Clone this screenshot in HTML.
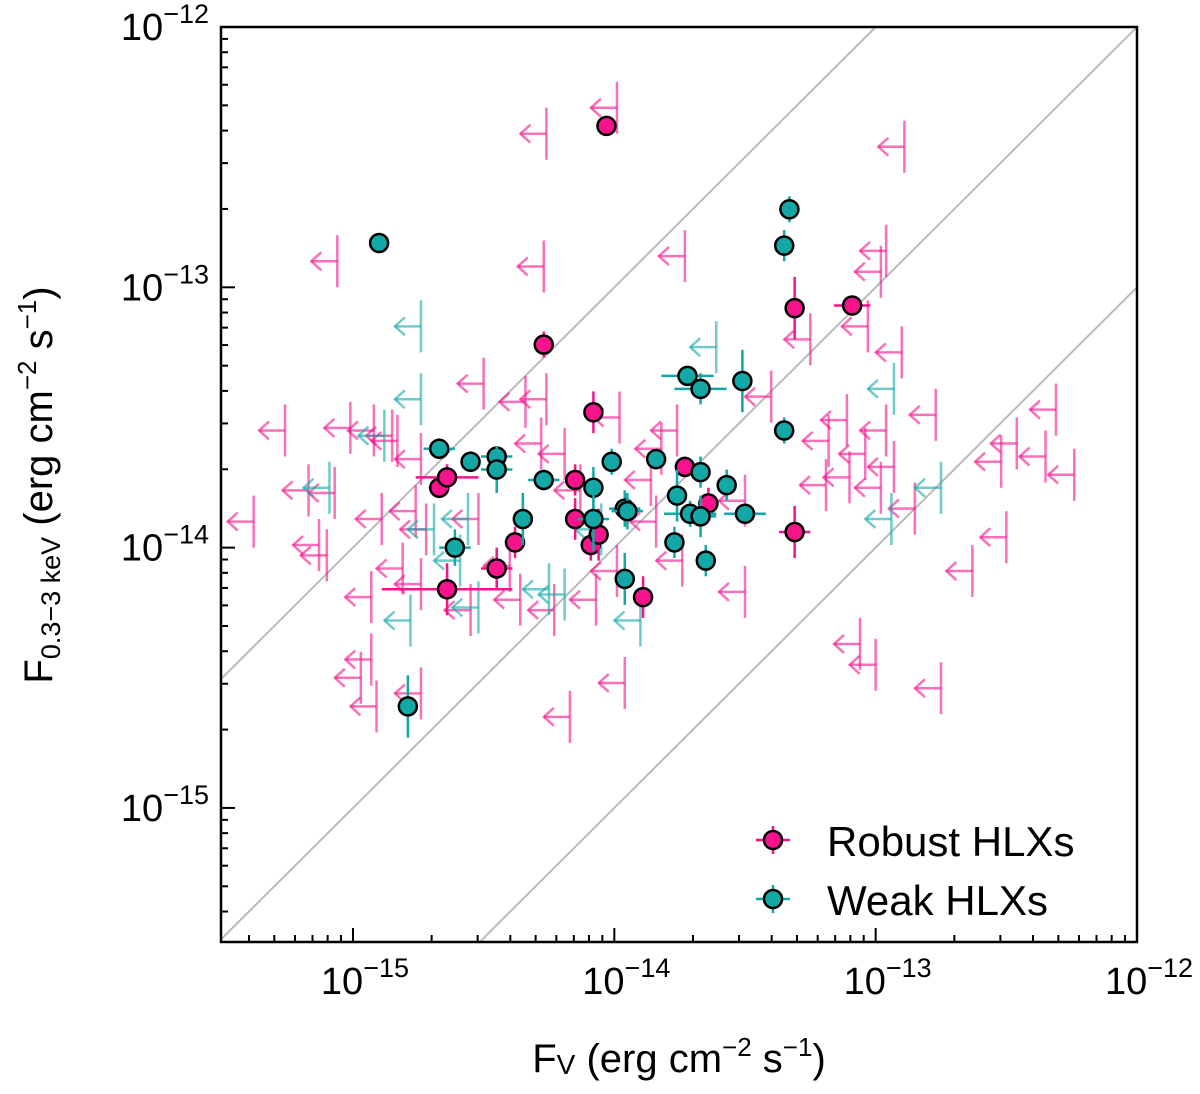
<!DOCTYPE html>
<html><head><meta charset="utf-8"><style>
html,body{margin:0;background:#fff;overflow:hidden;width:1200px;height:1094px}
svg{display:block;position:absolute;left:0;top:0}
svg text{font-family:"Liberation Sans",sans-serif}
</style></head><body>
<svg id="c" width="1200" height="1094" viewBox="0 0 1200 1094"></svg>
<script>
// log10 fluxes
const robustX=[-14.03,-14.27,-13.31,-13.09,-14.08,-13.73,-14.15,-14.15,-14.09,-14.06,-14.67,-14.64,-14.64,-14.45,-14.38,-13.89,-13.64,-13.31];
const robustY=[-12.38,-13.22,-13.08,-13.07,-13.48,-13.69,-13.74,-13.89,-13.99,-13.95,-13.77,-13.73,-14.16,-14.08,-13.98,-14.19,-13.83,-13.94];
const robustXerr=[0.03,0.02,0.02,0.07,0.03,0.02,0.03,0.03,0.03,0.02,0.04,0.12,0.25,0.06,0.02,0.03,0.03,0.06];
const robustYerr=[0.03,0.05,0.12,0.02,0.08,0.04,0.06,0.08,0.06,0.1,0.04,0.05,0.1,0.08,0.06,0.08,0.06,0.1];
const weakX=[-14.90,-13.33,-13.35,-13.72,-13.67,-13.51,-13.35,-14.67,-14.55,-14.45,-14.45,-14.27,-14.01,-13.84,-14.08,-14.35,-14.08,-13.96,-13.95,-13.76,-13.67,-13.57,-13.71,-13.67,-13.50,-14.61,-13.96,-13.77,-13.65,-14.79];
const weakY=[-12.83,-12.70,-12.84,-13.34,-13.39,-13.36,-13.55,-13.62,-13.67,-13.65,-13.70,-13.74,-13.67,-13.66,-13.77,-13.89,-13.89,-13.85,-13.86,-13.80,-13.71,-13.76,-13.87,-13.88,-13.87,-14.00,-14.12,-13.98,-14.05,-14.61];
const weakXerr=[0.02,0.02,0.02,0.1,0.1,0.03,0.03,0.06,0.02,0.06,0.06,0.06,0.02,0.02,0.03,0.03,0.06,0.06,0.06,0.03,0.02,0.03,0.1,0.06,0.08,0.06,0.03,0.02,0.02,0.02];
const weakYerr=[0.02,0.05,0.06,0.03,0.06,0.12,0.05,0.04,0.04,0.04,0.09,0.04,0.05,0.04,0.08,0.1,0.12,0.07,0.07,0.1,0.06,0.06,0.05,0.08,0.04,0.07,0.1,0.06,0.06,0.12];
const robustLimX=[-13.99,-14.26,-12.89,-14.27,-13.73,-12.96,-15.06,-12.98,-13.25,-13.03,-12.90,-14.50,-14.26,-14.34,-13.98,-13.40,-13.11,-12.96,-12.77,-12.31,-15.26,-15.01,-14.92,-14.85,-14.83,-14.74,-14.19,-14.28,-13.82,-13.76,-13.18,-13.19,-13.04,-12.93,-12.98,-12.85,-12.52,-12.46,-12.35,-12.24,-15.17,-15.07,-14.89,-14.76,-14.72,-14.52,-14.13,-13.86,-13.84,-13.50,-13.10,-12.50,-15.38,-15.13,-15.10,-14.93,-14.81,-14.74,-14.55,-14.36,-14.23,-14.40,-13.99,-13.74,-13.50,-14.07,-13.06,-13.00,-12.63,-12.75,-13.96,-14.17,-14.93,-14.97,-14.74,-14.91];
const robustLimY=[-12.31,-12.41,-12.46,-12.92,-12.88,-12.86,-12.90,-12.94,-13.20,-13.15,-13.25,-13.37,-13.43,-13.44,-13.50,-13.42,-13.51,-13.55,-13.49,-13.47,-13.55,-13.54,-13.55,-13.57,-13.59,-13.66,-13.64,-13.60,-13.62,-13.55,-13.59,-13.76,-13.64,-13.69,-13.77,-13.85,-13.67,-13.60,-13.65,-13.72,-13.78,-13.79,-13.89,-13.86,-13.93,-13.89,-13.78,-13.74,-13.90,-13.82,-13.73,-13.96,-13.90,-13.99,-14.03,-14.19,-14.08,-14.14,-14.24,-14.20,-14.24,-14.07,-14.09,-14.05,-14.17,-14.20,-14.37,-14.45,-14.09,-14.54,-14.52,-14.65,-14.43,-14.50,-14.56,-14.61];
const weakLimX=[-14.74,-14.74,-13.61,-12.93,-15.09,-14.88,-14.69,-14.56,-14.52,-14.05,-13.90,-14.19,-12.94,-12.75,-14.78,-14.25,-14.59];
const weakLimY=[-13.15,-13.43,-13.23,-13.39,-13.77,-13.57,-13.93,-13.89,-14.23,-13.93,-14.28,-14.18,-13.89,-13.77,-14.28,-14.16,-14.05];
const xTicks=[-15,-14,-13,-12];
const yTicks=[-15,-14,-13,-12];
const diagOffsets=[1,0,-1];

const NS="http://www.w3.org/2000/svg", svg=document.getElementById('c');
const L=221,R=1137,T=27,B=942;
const XMIN=-15.505,XMAX=-12,YMIN=-15.515,YMAX=-12;
const sx=v=>L+(v-XMIN)/(XMAX-XMIN)*(R-L);
const sy=v=>B-(v-YMIN)/(YMAX-YMIN)*(B-T);
function mk(tag,attrs,parent){const e=document.createElementNS(NS,tag);for(const k in attrs)e.setAttribute(k,attrs[k]);(parent||svg).appendChild(e);return e;}
const defs=mk('defs',{});const cp=mk('clipPath',{id:'clip'},defs);mk('rect',{x:L,y:T,width:R-L,height:B-T},cp);
const plot=mk('g',{'clip-path':'url(#clip)'});


diagOffsets.forEach(o=>{const a=Math.max(XMIN,YMIN-o),b=Math.min(XMAX,YMAX-o);
const l=mk('line',{x1:sx(a),y1:sy(a+o),x2:sx(b),y2:sy(b+o),stroke:'#bbb','stroke-width':2},plot);

});
const MAG='#f7138c',TEAL='#13a8a6';
function limit(x,y,col,name){const g=mk('g',{stroke:col,'stroke-opacity':0.6,'stroke-width':2.5,fill:'none'},plot);


const X=sx(x),Y=sy(y),len=26;
mk('line',{x1:X,y1:sy(y+0.1),x2:X,y2:sy(y-0.1)},g);
mk('line',{x1:X,y1:Y,x2:X-len,y2:Y},g);
mk('polyline',{points:`${X-len+10},${Y-9} ${X-len},${Y} ${X-len+10},${Y+9}`},g);}
robustLimX.forEach((x,i)=>limit(x,robustLimY[i],MAG,'robust-upper-limit'));
weakLimX.forEach((x,i)=>limit(x,weakLimY[i],TEAL,'weak-upper-limit'));
function det(x,y,xe,ye,col,name){const g=mk('g',{},plot);


const X=sx(x),Y=sy(y);
mk('line',{x1:sx(x-xe),y1:Y,x2:sx(x+xe),y2:Y,stroke:col,'stroke-width':2.5},g);
mk('line',{x1:X,y1:sy(y-ye),x2:X,y2:sy(y+ye),stroke:col,'stroke-width':2.5},g);
mk('circle',{cx:X,cy:Y,r:9,fill:col,stroke:'#000','stroke-width':2.5},g);}
robustX.forEach((x,i)=>det(x,robustY[i],robustXerr[i],robustYerr[i],MAG,'robust-hlx-point'));
weakX.forEach((x,i)=>det(x,weakY[i],weakXerr[i],weakYerr[i],TEAL,'weak-hlx-point'));
const fr=mk('rect',{x:L,y:T,width:R-L,height:B-T,fill:'none',stroke:'#000','stroke-width':2.5});


for(let d=-16;d<=-12;d++){for(let m=1;m<10;m++){const v=d+Math.log10(m);
 if(v>=XMIN&&v<=XMAX){const X=sx(v),len=m==1?14:7;mk('line',{x1:X,y1:B,x2:X,y2:B-len,stroke:'#000','stroke-width':2});}
 if(v>=YMIN&&v<=YMAX){const Y=sy(v),len=m==1?14:7;mk('line',{x1:L,y1:Y,x2:L+len,y2:Y,stroke:'#000','stroke-width':2});}}}
xTicks.forEach(t=>{const tx=mk('text',{x:sx(t)+12,y:B+52,'text-anchor':'middle','font-size':38});


tx.innerHTML=`10<tspan dy="-17" font-size="27">−${-t}</tspan>`;});
yTicks.forEach(t=>{const tx=mk('text',{x:L-12,y:sy(t)+13,'text-anchor':'end','font-size':38});


tx.innerHTML=`10<tspan dy="-17" font-size="27">−${-t}</tspan>`;});
</script>
<svg width="1200" height="1094">
<text x="679" y="1072" text-anchor="middle" font-size="40" font-family="Liberation Sans, sans-serif">F<tspan font-size="28" dy="2">V</tspan><tspan dy="-2"> (erg cm</tspan><tspan font-size="26" dy="-16">−2</tspan><tspan dy="16"> s</tspan><tspan font-size="26" dy="-16">−1</tspan><tspan dy="16">)</tspan></text>
<text transform="translate(52,485) rotate(-90)" text-anchor="middle" font-size="40" font-family="Liberation Sans, sans-serif">F<tspan font-size="27" dy="8">0.3−3 keV</tspan><tspan dy="-8"> (erg cm</tspan><tspan font-size="26" dy="-16">−2</tspan><tspan dy="16"> s</tspan><tspan font-size="26" dy="-16">−1</tspan><tspan dy="16">)</tspan></text>
<g>
<line x1="756" y1="840" x2="790" y2="840" stroke="#f7138c" stroke-width="2.5"/><line x1="773" y1="826" x2="773" y2="854" stroke="#f7138c" stroke-width="2.5"/>
<circle cx="773" cy="840" r="9" fill="#f7138c" stroke="#000" stroke-width="2.5"/>
<text x="827" y="856" font-size="42" font-family="Liberation Sans, sans-serif">Robust HLXs</text></g>
<g>
<line x1="756" y1="899" x2="790" y2="899" stroke="#13a8a6" stroke-width="2.5"/><line x1="773" y1="885" x2="773" y2="913" stroke="#13a8a6" stroke-width="2.5"/>
<circle cx="773" cy="899" r="9" fill="#13a8a6" stroke="#000" stroke-width="2.5"/>
<text x="827" y="915" font-size="42" font-family="Liberation Sans, sans-serif">Weak HLXs</text></g>
</svg>
</body></html>
